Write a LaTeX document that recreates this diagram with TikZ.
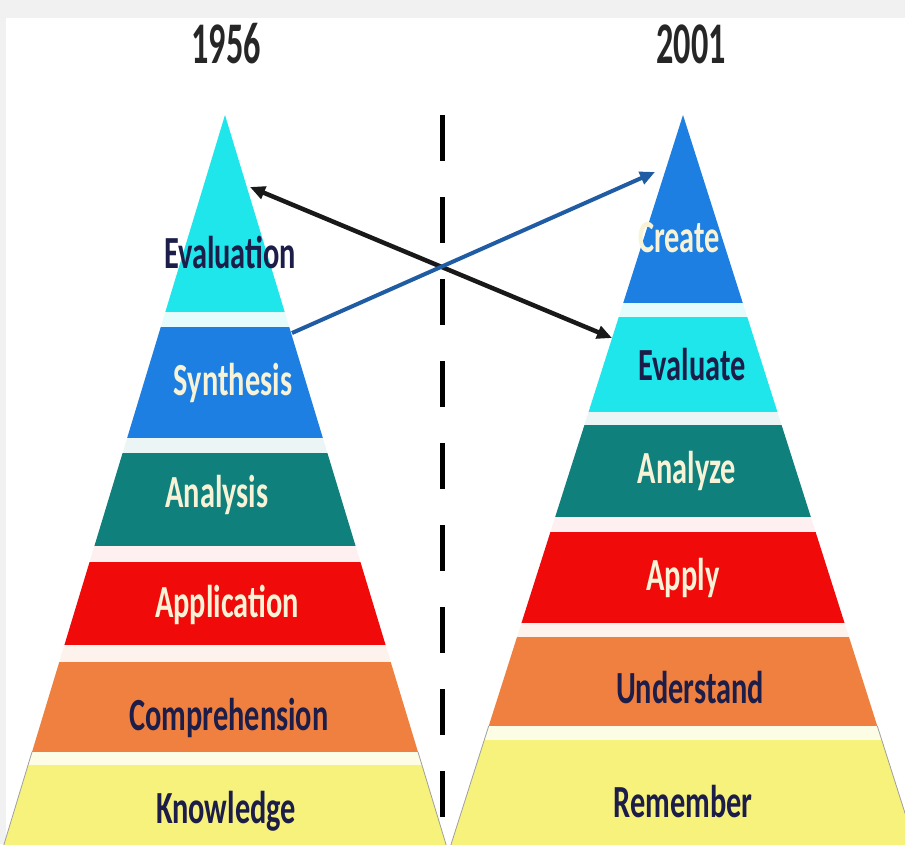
\documentclass[tikz,border=0pt]{standalone}
\usepackage{fontspec}
\setmainfont{Carlito}
\usetikzlibrary{arrows.meta}
\definecolor{cyanband}{HTML}{1EE6EA}
\definecolor{blueband}{HTML}{1E7FE3}
\definecolor{tealband}{HTML}{10807C}
\definecolor{redband}{HTML}{F00A0A}
\definecolor{orangeband}{HTML}{F0803F}
\definecolor{yellowband}{HTML}{F6F27C}
\definecolor{navytext}{HTML}{1C1D48}
\definecolor{creamtext}{HTML}{F8F3D6}
\definecolor{arrowblue}{HTML}{1F5CA3}
\definecolor{framegray}{HTML}{F1F1F1}

% apex x, slope, ytop, ybot, colour
\newcommand\pyrband[5]{%
  \pgfmathsetmacro\pbwa{#2*(#3-115)}%
  \pgfmathsetmacro\pbwb{#2*(#4-115)}%
  \fill[#5] ({#1-\pbwa},#3) -- ({#1+\pbwa},#3) -- ({#1+\pbwb},#4) -- ({#1-\pbwb},#4) -- cycle;}
\newcommand\pbedge[4]{% apex x, slope, ytop, ybot
  \pgfmathsetmacro\pbwa{#2*(#3-115)}%
  \pgfmathsetmacro\pbwb{#2*(#4-115)}%
  \draw[edgeline] ({#1-\pbwa},#3) -- ({#1-\pbwb},#4);
  \draw[edgeline] ({#1+\pbwa},#3) -- ({#1+\pbwb},#4);}
\newcommand\cond[1]{\scalebox{0.66}[1]{#1}}
\newcommand\darklabel[4]{\node[lbl, text=navytext] (#1) at (#2,#3) {\cond{#4}};}
\newcommand\lightlabel[4]{\node[lbl, text=creamtext] (#1) at (#2,#3) {\cond{#4}};}

\tikzset{
  lbl/.style={anchor=base, inner sep=0pt, font=\fontsize{46}{50}\selectfont\bfseries},
  yeartitle/.style={anchor=base, inner sep=0pt, text=black!85, font=\fontsize{59}{62}\selectfont\bfseries},
  edgeline/.style={draw=gray!75, line width=0.8pt},
  divider/.style={line width=5pt, black, dash pattern=on 46pt off 36pt},
  blackarrow/.style={line width=4.5pt, black!90, {Triangle[length=15pt,width=13pt]}-{Triangle[length=15pt,width=13pt]}},
  bluearrow/.style={line width=4pt, arrowblue, -{Triangle[length=15pt,width=13pt]}},
}

\begin{document}
\begin{tikzpicture}[x=1pt,y=-1pt]
\useasboundingbox (0,0) rectangle (905,844);
\clip (0,0) rectangle (905,844);
\fill[framegray] (0,0) rectangle (905,844);
\fill[white] (6,18) rectangle (905,844);

% left pyramid (1956)
\pyrband{225}{0.303}{115}{312}{cyanband}
\pyrband{225}{0.303}{312}{327}{white!88!cyanband}
\pyrband{225}{0.303}{327}{438}{blueband}
\pyrband{225}{0.303}{438}{453}{white!92!tealband}
\pyrband{225}{0.303}{453}{546}{tealband}
\pyrband{225}{0.303}{546}{562}{white!94!redband}
\pyrband{225}{0.303}{562}{645}{redband}
\pyrband{225}{0.303}{645}{662}{white!90!orangeband}
\pyrband{225}{0.303}{662}{752}{orangeband}
\pyrband{225}{0.303}{752}{765}{white!80!yellowband}
\pyrband{225}{0.303}{765}{860}{yellowband}
\pbedge{225}{0.303}{752}{860}

% right pyramid (2001)
\pyrband{683}{0.318}{115}{303}{blueband}
\pyrband{683}{0.318}{303}{317}{white!88!cyanband}
\pyrband{683}{0.318}{317}{412}{cyanband}
\pyrband{683}{0.318}{412}{425}{white!92!tealband}
\pyrband{683}{0.318}{425}{517}{tealband}
\pyrband{683}{0.318}{517}{532}{white!94!redband}
\pyrband{683}{0.318}{532}{623}{redband}
\pyrband{683}{0.318}{623}{637}{white!90!orangeband}
\pyrband{683}{0.318}{637}{726}{orangeband}
\pyrband{683}{0.318}{726}{740}{white!80!yellowband}
\pyrband{683}{0.318}{740}{860}{yellowband}
\pbedge{683}{0.318}{726}{860}

% titles
\node[yeartitle] (y1956) at (226,63) {\scalebox{0.58}[1]{1956}};
\node[yeartitle] (y2001) at (691,63) {\scalebox{0.58}[1]{2001}};

% dashed divider
\coordinate (divtop) at (442,115);
\coordinate (divbot) at (442,818);
\draw[divider] (divtop) -- (divbot);

% labels left
\darklabel{evaluation}{230}{268}{Evaluation}
\lightlabel{synthesis}{233}{395}{Synthesis}
\lightlabel{analysis}{217}{507}{Analysis}
\lightlabel{application}{227}{617}{Application}
\darklabel{comprehension}{229}{730}{Comprehension}
\darklabel{knowledge}{226}{823}{Knowledge}

% labels right
\lightlabel{create}{679}{252}{Create}
\darklabel{evaluate}{692}{380}{Evaluate}
\lightlabel{analyze}{687}{483}{Analyze}
\lightlabel{apply}{683}{590}{Apply}
\darklabel{understand}{690}{703}{Understand}
\darklabel{remember}{683}{817}{Remember}

% arrows
\coordinate (evalL) at (250,187);
\coordinate (evalR) at (612,338);
\coordinate (synthL) at (292,333);
\coordinate (createR) at (655,172);
\draw[blackarrow] (evalR) -- (evalL);
\draw[bluearrow] (synthL) -- (createR);
\end{tikzpicture}
\end{document}
